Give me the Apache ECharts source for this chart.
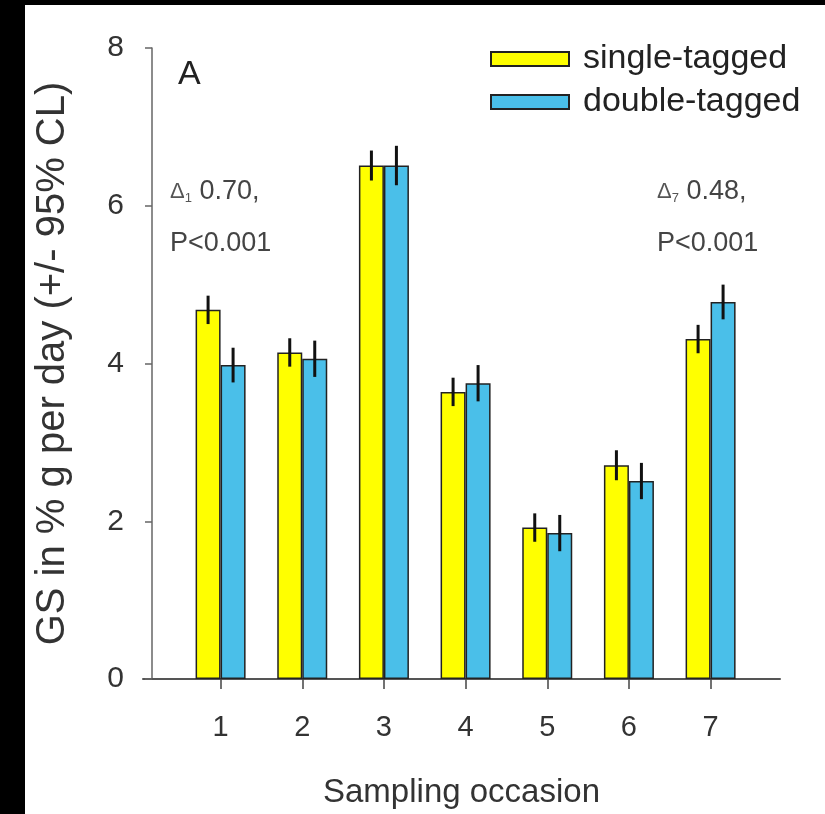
<!DOCTYPE html>
<html>
<head>
<meta charset="utf-8">
<script src="https://cdn.jsdelivr.net/npm/echarts@6/dist/echarts.min.js"></script>
<style>
  html, body { margin: 0; padding: 0; background: #000; }
  #chart { position: absolute; left: 25px; top: 5px; width: 800px; height: 809px; background: #fff; }
</style>
</head>
<body>
<div id="chart"></div>
<script>
// sampling occasions
const occasions = [1, 2, 3, 4, 5, 6, 7]
// growth means, % g per day
const singleTagged = [4.68, 4.14, 6.51, 3.64, 1.92, 2.71, 4.31]
const doubleTagged = [3.98, 4.06, 6.51, 3.75, 1.85, 2.51, 4.78]
// half width of the 95% CL
const singleCL = [0.18, 0.18, 0.19, 0.18, 0.18, 0.19, 0.18]
const doubleCL = [0.22, 0.23, 0.25, 0.23, 0.23, 0.23, 0.22]
const yTicks = [0, 2, 4, 6, 8]

const font = 'Arial, "Liberation Sans", Helvetica, sans-serif'
const barW = 25

function errData (means, cl) {
  return occasions.map((x, i) => [x, means[i] - cl[i], means[i] + cl[i]])
}

function errRender (offset) {
  return function (params, api) {
    const x = api.value(0)
    const a = api.coord([x, api.value(1)])
    const b = api.coord([x, api.value(2)])
    return {
      type: 'line',
      shape: { x1: a[0] + offset, y1: a[1], x2: b[0] + offset, y2: b[1] },
      style: { stroke: '#111', lineWidth: 3 }
    }
  }
}

const chart = echarts.init(document.getElementById('chart'))
chart.setOption({
  animation: false,
  textStyle: { fontFamily: font },
  grid: { left: 115, right: 45, top: 43, bottom: 135 },
  legend: {
    orient: 'vertical',
    left: 460,
    top: 32,
    icon: 'rect',
    itemWidth: 78,
    itemHeight: 14,
    itemGap: 9,
    textStyle: { fontSize: 34, color: '#222', fontFamily: font, padding: [0, 0, 0, 9] },
    data: ['single-tagged', 'double-tagged']
  },
  xAxis: {
    type: 'value',
    min: 0.05,
    max: 7.85,
    name: 'Sampling occasion',
    nameLocation: 'middle',
    nameGap: 97,
    nameTextStyle: { fontSize: 33, color: '#333', fontFamily: font },
    splitLine: { show: false },
    axisLine: { lineStyle: { color: '#555', width: 2 } },
    axisTick: { customValues: occasions, length: 10, lineStyle: { color: '#444', width: 1.5 } },
    axisLabel: { customValues: occasions, fontSize: 29, color: '#333', margin: 34, fontFamily: font }
  },
  yAxis: {
    type: 'value',
    min: 0,
    max: 8,
    interval: 2,
    offset: -9,
    name: 'GS in % g per day (+/- 95% CL)',
    nameLocation: 'middle',
    nameGap: 79,
    nameTextStyle: { fontSize: 40, color: '#333', fontFamily: font },
    splitLine: { show: false },
    axisLine: { show: true, lineStyle: { color: '#666', width: 1.5 } },
    axisTick: { show: true, length: 7, customValues: yTicks, lineStyle: { color: '#666', width: 1.5 } },
    axisLabel: { customValues: yTicks, fontSize: 30, color: '#333', margin: 28, fontFamily: font }
  },
  graphic: [
    { type: 'text', left: 153, top: 53, style: { text: 'A', fontSize: 34, fill: '#222', fontFamily: font } },
    {
      type: 'text', left: 145, top: 173,
      style: {
        text: '{d|Δ}{s|1} 0.70,', fill: '#444', fontSize: 27, fontFamily: font,
        rich: { d: { fontSize: 22, fill: '#555' }, s: { fontSize: 13, fill: '#555', padding: [14, 0, 0, 0] } }
      }
    },
    { type: 'text', left: 145, top: 225, style: { text: 'P<0.001', fontSize: 27, fill: '#444', fontFamily: font } },
    {
      type: 'text', left: 632, top: 173,
      style: {
        text: '{d|Δ}{s|7} 0.48,', fill: '#444', fontSize: 27, fontFamily: font,
        rich: { d: { fontSize: 22, fill: '#555' }, s: { fontSize: 13, fill: '#555', padding: [14, 0, 0, 0] } }
      }
    },
    { type: 'text', left: 632, top: 225, style: { text: 'P<0.001', fontSize: 27, fill: '#444', fontFamily: font } }
  ],
  series: [
    {
      name: 'single-tagged',
      type: 'bar',
      barWidth: barW,
      barGap: '0%',
      itemStyle: { color: '#FFFF00', borderColor: '#222', borderWidth: 1.5 },
      data: occasions.map((x, i) => [x, singleTagged[i]])
    },
    {
      name: 'double-tagged',
      type: 'bar',
      barWidth: barW,
      barGap: '0%',
      itemStyle: { color: '#4ABFE9', borderColor: '#222', borderWidth: 1.5 },
      data: occasions.map((x, i) => [x, doubleTagged[i]])
    },
    {
      type: 'custom',
      z: 5,
      renderItem: errRender(-barW / 2),
      encode: { x: 0, y: [1, 2] },
      data: errData(singleTagged, singleCL)
    },
    {
      type: 'custom',
      z: 5,
      renderItem: errRender(barW / 2),
      encode: { x: 0, y: [1, 2] },
      data: errData(doubleTagged, doubleCL)
    }
  ]
})
</script>
</body>
</html>
